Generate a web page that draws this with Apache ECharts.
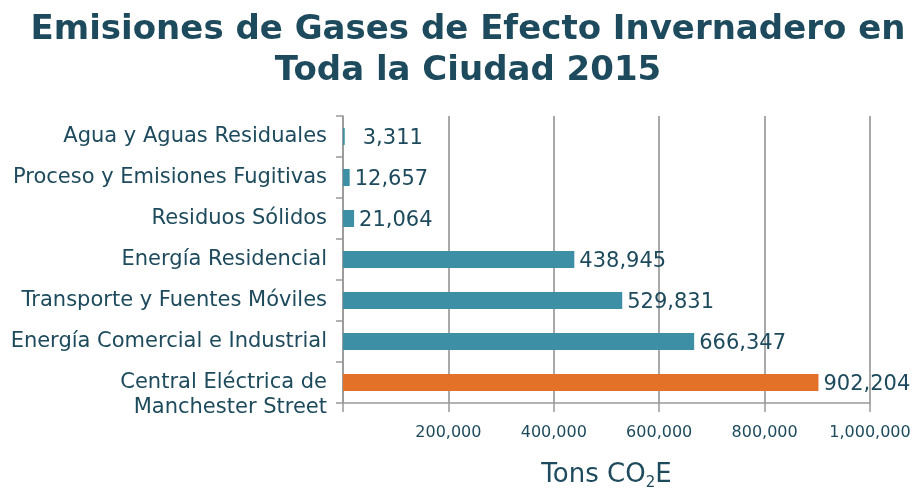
<!DOCTYPE html>
<html>
<head>
<meta charset="utf-8">
<script src="https://cdn.jsdelivr.net/npm/echarts@6/dist/echarts.min.js"></script>
<style>
    html, body { margin: 0; padding: 0; background: #fff; }
    #chart { width: 916px; height: 492px; }
</style>
</head>
<body>
<div id="chart"></div>
<script>
//数据
var categories = ['Agua y Aguas Residuales', 'Proceso y Emisiones Fugitivas', 'Residuos Sólidos',
    'Energía Residencial', 'Transporte y Fuentes Móviles', 'Energía Comercial e Industrial',
    'Central Eléctrica de\nManchester Street'];
var values = [3311, 12657, 21064, 438945, 529831, 666347, 902204];
var barColors = ['#3d8fa5', '#3d8fa5', '#3d8fa5', '#3d8fa5', '#3d8fa5', '#3d8fa5', '#e37127'];
var xTicks = [0, 200000, 400000, 600000, 800000, 1000000];

var chart = echarts.init(document.getElementById('chart'));
var textColor = '#1d4a5c';
var bodyFont = '"DejaVu Sans", sans-serif';

function fmt(v) {
    return v.toString().replace(/\B(?=(\d{3})+(?!\d))/g, ',');
}

var seriesData = [];
for (var i = 0; i < values.length; i++) {
    seriesData.push({
        value: values[i],
        itemStyle: { color: barColors[i] }
    });
}
//第一个标签离柱子远一点
seriesData[0].label = { distance: 18 };

var option = {
    backgroundColor: '#fff',
    title: {
        text: 'Emisiones de Gases de Efecto Invernadero en\nToda la Ciudad 2015',
        left: 463,
        textAlign: 'center',
        top: 5,
        textStyle: {
            fontFamily: bodyFont,
            fontSize: 34,
            fontWeight: 'bold',
            color: textColor,
            lineHeight: 41
        }
    },
    grid: {
        left: 343,
        right: 46,
        top: 116,
        bottom: 89,
        outerBoundsMode: 'none'
    },
    xAxis: {
        type: 'value',
        min: xTicks[0],
        max: xTicks[xTicks.length - 1],
        interval: 200000,
        name: '{a|Tons CO}{s|2}{a|E}',
        nameLocation: 'middle',
        nameGap: 57,
        nameTextStyle: {
            rich: {
                a: { fontFamily: bodyFont, fontSize: 26, color: textColor },
                s: { fontFamily: bodyFont, fontSize: 15, color: textColor, padding: [16, 0, 0, 0] }
            }
        },
        axisLine: { show: true, lineStyle: { color: '#999', width: 1.5 } },
        axisTick: { show: true, length: 9, lineStyle: { color: '#999', width: 1.5 } },
        splitLine: { show: true, lineStyle: { color: '#8c8c8c', width: 1.5 } },
        axisLabel: {
            margin: 22,
            fontFamily: bodyFont,
            fontSize: 16,
            color: textColor,
            formatter: function (v) {
                return v === 0 ? '' : fmt(v);
            }
        }
    },
    yAxis: {
        type: 'category',
        inverse: true,
        data: categories,
        axisLine: { show: true, lineStyle: { color: '#999', width: 1.5 } },
        axisTick: { show: true, length: 7, lineStyle: { color: '#999', width: 1.5 } },
        axisLabel: {
            interval: 0,
            margin: 16,
            fontFamily: bodyFont,
            fontSize: 21,
            color: textColor,
            lineHeight: 25,
            //两行的标签：第一行对齐柱子
            formatter: function (v) {
                return v.indexOf('\n') > -1 ? '\n' + v : v;
            }
        }
    },
    series: [{
        type: 'bar',
        data: seriesData,
        barWidth: 17,
        label: {
            show: true,
            position: 'right',
            distance: 5,
            offset: [0, 2],
            fontFamily: bodyFont,
            fontSize: 21,
            color: textColor,
            formatter: function (p) {
                return fmt(p.value);
            }
        }
    }]
};
chart.setOption(option);
</script>
</body>
</html>
